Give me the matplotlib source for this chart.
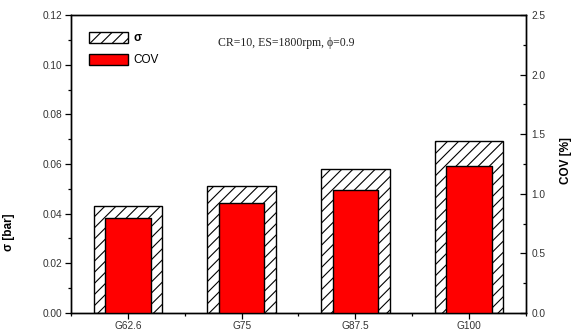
import matplotlib
matplotlib.use("Agg")
import matplotlib.pyplot as plt
from matplotlib.patches import Patch
from matplotlib.ticker import MultipleLocator, FormatStrFormatter
import numpy as np

categories = ["G62.6", "G75", "G87.5", "G100"]
sigma_bar = [0.0431, 0.0513, 0.0579, 0.0693]
cov_pct = [0.797, 0.925, 1.03, 1.236]

plt.rcParams["hatch.linewidth"] = 0.8
plt.rcParams["font.family"] = ["Liberation Sans", "DejaVu Sans"]
tick_color = "#333333"

fig = plt.figure(figsize=(5.72, 3.35), dpi=100)
ax = fig.add_axes([0.1241, 0.0657, 0.7955, 0.8895])
ax2 = ax.twinx()

x = np.arange(1, len(categories) + 1)
ax.bar(x, sigma_bar, width=0.6, facecolor="white", edgecolor="black",
       hatch="///", linewidth=1.0, zorder=2)
ax2.bar(x, cov_pct, width=0.4, facecolor="#ff0000", edgecolor="black",
        linewidth=1.0, zorder=3)

ax.set_xlim(0.5, 4.5)
ax.set_ylim(0, 0.12)
ax2.set_ylim(0, 2.5)

ax.set_xticks(x)
ax.set_xticklabels(categories)
ax.set_xticks(np.arange(0.5, 4.6, 1.0), minor=True)
ax.yaxis.set_major_locator(MultipleLocator(0.02))
ax.yaxis.set_minor_locator(MultipleLocator(0.01))
ax.yaxis.set_major_formatter(FormatStrFormatter("%.2f"))
ax2.yaxis.set_major_locator(MultipleLocator(0.5))
ax2.yaxis.set_minor_locator(MultipleLocator(0.25))
ax2.yaxis.set_major_formatter(FormatStrFormatter("%.1f"))

for a in (ax, ax2):
    for s in a.spines.values():
        s.set_linewidth(1.0)

ax.tick_params(axis="x", which="major", direction="out", length=4, width=0.9,
               labelsize=7.3, labelcolor=tick_color, pad=2, top=False)
ax.tick_params(axis="x", which="minor", direction="out", length=2.5, width=0.9, top=False)
ax.tick_params(axis="y", which="major", direction="out", length=4, width=0.9,
               labelsize=7.3, labelcolor=tick_color, pad=2, right=False)
ax.tick_params(axis="y", which="minor", direction="out", length=2.5, width=0.9, right=False)
ax2.tick_params(axis="y", which="major", direction="in", length=4, width=0.9,
                labelsize=7.3, labelcolor=tick_color, pad=4)
ax2.tick_params(axis="y", which="minor", direction="in", length=2.5, width=0.9)

ax.set_ylabel("σ [bar]", fontsize=8.5, fontweight="bold")
ax.yaxis.set_label_coords(-0.122, 0.27)
ax2.set_ylabel("COV [%]", fontsize=8.5, fontweight="bold")
ax2.yaxis.set_label_coords(1.075, 0.51)

ax.text(0.323, 0.905, "CR=10, ES=1800rpm, ϕ=0.9", transform=ax.transAxes,
        fontsize=8.5, family="Liberation Serif", color="#222222", va="center")

handles = [Patch(facecolor="white", edgecolor="black", hatch="///", linewidth=1.0),
           Patch(facecolor="#ff0000", edgecolor="black", linewidth=1.0)]
leg = ax2.legend(handles, ["σ", "COV"], loc="upper left",
                 bbox_to_anchor=(0.03, 0.96), frameon=False, fontsize=8.5,
                 handlelength=3.3, handleheight=1.1, handletextpad=0.4,
                 labelspacing=0.8, borderaxespad=0)
leg.get_texts()[0].set_fontweight("bold")

fig.savefig("out.png", dpi=100)
